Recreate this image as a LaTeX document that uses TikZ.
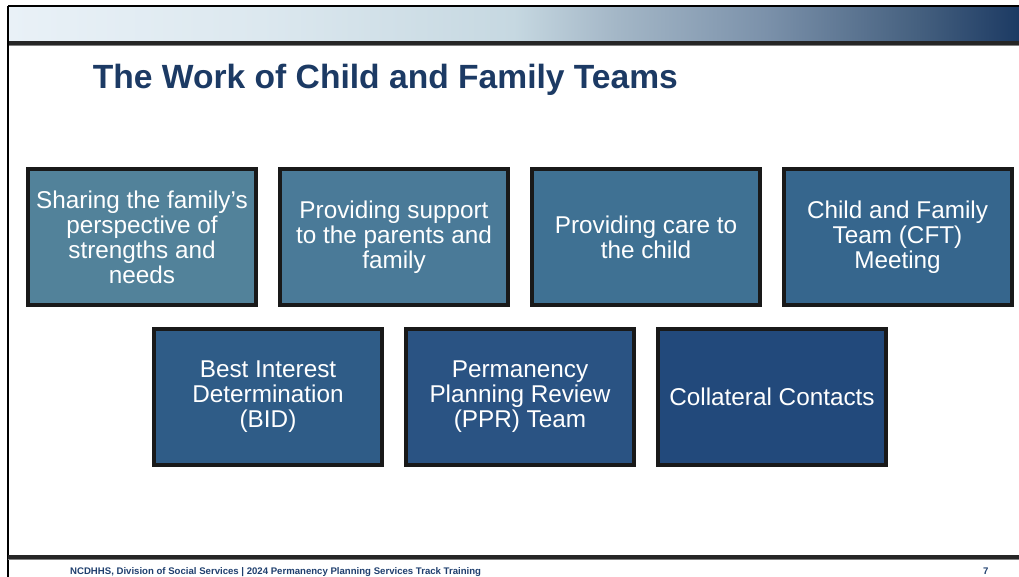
\documentclass[tikz,border=0pt]{standalone}
\usepackage{fontspec}
\setmainfont{Liberation Sans}
\definecolor{titleblue}{RGB}{28,58,100}
\definecolor{footblue}{RGB}{31,63,110}
\definecolor{bandA}{HTML}{E9F1F7}
\definecolor{bandB}{HTML}{DCE8EF}
\definecolor{bandC}{HTML}{C6D8E1}
\definecolor{bandD}{HTML}{A4B7C7}
\definecolor{bandE}{HTML}{7B91AA}
\definecolor{bandF}{HTML}{45607F}
\definecolor{bandG}{HTML}{1C3A63}
\definecolor{boxA}{HTML}{52829A}
\definecolor{boxB}{HTML}{4A7A98}
\definecolor{boxC}{HTML}{3F7193}
\definecolor{boxD}{HTML}{36668D}
\definecolor{boxE}{HTML}{2F5C87}
\definecolor{boxF}{HTML}{2A5383}
\definecolor{boxG}{HTML}{22497B}
\pgfdeclarehorizontalshading{bandshade}{100bp}{color(0bp)=(bandA); color(25bp)=(bandA);
  color(37.5bp)=(bandB); color(50bp)=(bandC); color(55bp)=(bandD);
  color(62.5bp)=(bandE); color(70bp)=(bandF); color(75bp)=(bandG); color(100bp)=(bandG)}

\begin{document}
\begin{tikzpicture}[
    x=1pt, y=-1pt,
    task/.style={rectangle, draw=black!90, line width=4pt, text=white,
        minimum width=228pt, minimum height=136pt, inner sep=2pt, align=center,
        font=\fontsize{24.3}{25}\selectfont},
    frame/.style={line width=1.5pt, black},
    rule/.style={line width=3.5pt, black!85}
]
    \useasboundingbox (0,0) rectangle (1019,577);
    \shade[shading=bandshade] (8,6) rectangle (1019,43);
    \draw[frame] (8,6) -- (1019,6);
    \draw[rule] (8,43) -- (1019,43);
    \draw[gray, line width=1pt] (8,45.5) -- (1019,45.5);
    \draw[frame] (8,6) -- (8,577);
    \draw[rule] (8,557) -- (1019,557);
    \draw[gray, line width=1pt] (8,559.5) -- (1019,559.5);
    \node[anchor=base west, inner sep=0pt, text=titleblue,
        font=\fontsize{33.6}{36}\selectfont\bfseries] (title) at (92.7,88.5)
        {The Work of Child and Family Teams};
    \node[task, fill=boxA] (share) at (142,237)
        {Sharing the family's\\perspective of\\strengths and\\needs};
    \node[task, fill=boxB] (support) at (394,237)
        {Providing support\\to the parents and\\family};
    \node[task, fill=boxC] (care) at (646,237)
        {Providing care to\\the child};
    \node[task, fill=boxD] (cft) at (897.5,237)
        {Child and Family\\Team (CFT)\\Meeting};
    \node[task, fill=boxE] (bid) at (268,397)
        {Best Interest\\Determination\\(BID)};
    \node[task, fill=boxF] (ppr) at (520,397)
        {Permanency\\Planning Review\\(PPR) Team};
    \node[task, fill=boxG] (contacts) at (772,397)
        {Collateral Contacts};
    \node[anchor=base west, inner sep=0pt, text=footblue,
        font=\fontsize{9.6}{11}\selectfont\bfseries] (footer) at (70,574)
        {NCDHHS, Division of Social Services | 2024 Permanency Planning Services Track Training};
    \node[anchor=base west, inner sep=0pt, text=footblue,
        font=\fontsize{9.6}{11}\selectfont\bfseries] (pagenum) at (983,574) {7};
\end{tikzpicture}
\end{document}
